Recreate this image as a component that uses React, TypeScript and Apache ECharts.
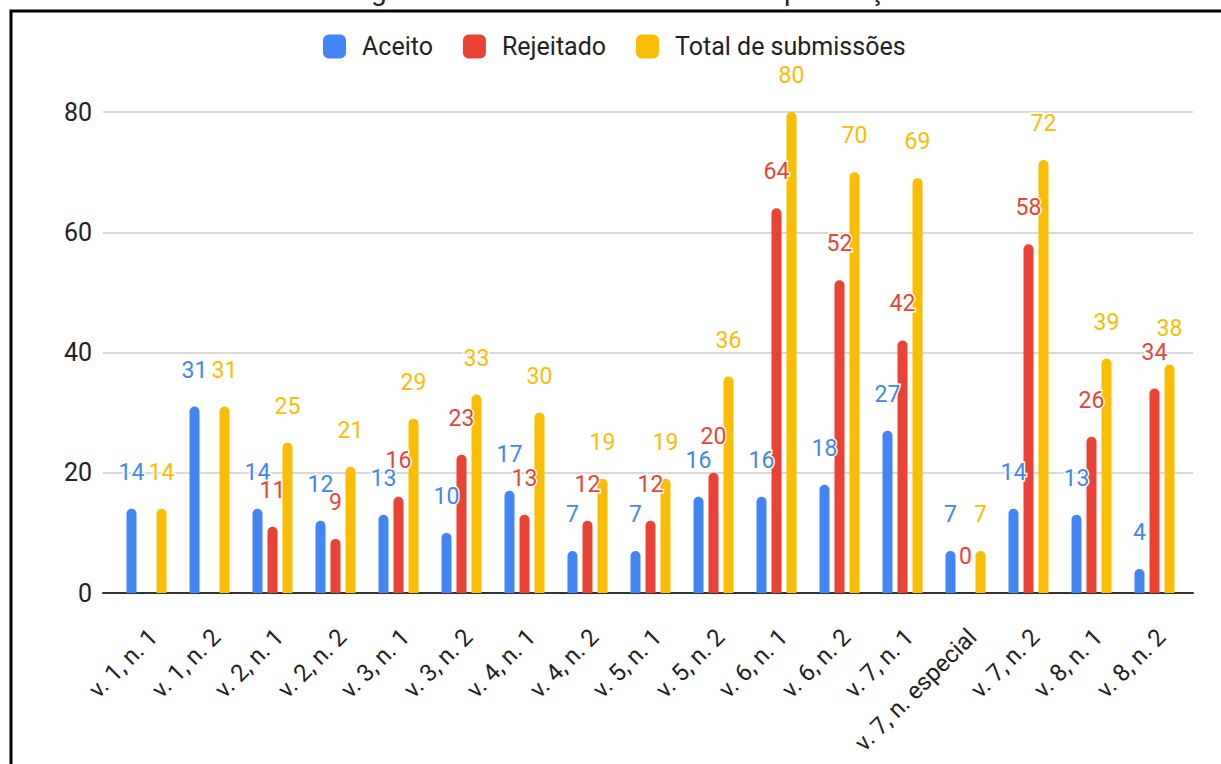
import React, { useEffect, useRef } from "react";
import * as echarts from "echarts";

const categories = [
  "v. 1, n. 1", "v. 1, n. 2", "v. 2, n. 1", "v. 2, n. 2", "v. 3, n. 1", "v. 3, n. 2",
  "v. 4, n. 1", "v. 4, n. 2", "v. 5, n. 1", "v. 5, n. 2", "v. 6, n. 1", "v. 6, n. 2",
  "v. 7, n. 1", "v. 7, n. especial", "v. 7, n. 2", "v. 8, n. 1", "v. 8, n. 2",
];
const aceito = [14, 31, 14, 12, 13, 10, 17, 7, 7, 16, 16, 18, 27, 7, 14, 13, 4];
const rejeitado = [null, null, 11, 9, 16, 23, 13, 12, 12, 20, 64, 52, 42, 0, 58, 26, 34];
const total = [14, 31, 25, 21, 29, 33, 30, 19, 19, 36, 80, 70, 69, 7, 72, 39, 38];
const seriesNames = ["Aceito", "Rejeitado", "Total de submissões"];
const seriesColors = ["#4285F4", "#EA4335", "#FBBC04"];
const yMin = 0;
const yMax = 80;
const yStep = 20;
const titleText = "Figura 1 – Número de submissões por edição";

const FONT = "Roboto, 'Noto Sans', sans-serif";

export default function App() {
  const ref = useRef<HTMLDivElement>(null);
  useEffect(() => {
    if (!ref.current) return;
    const chart = echarts.init(ref.current, null, { renderer: "svg" });
    const mkSeries = (name: string, data: (number | null)[], color: string) => ({
      name,
      type: "bar",
      xAxisIndex: 0,
      yAxisIndex: 0,
      data,
      barWidth: 10,
      barGap: "50%",
      itemStyle: { color, borderRadius: [5, 5, 0, 0] },
      label: {
        show: true,
        position: "top",
        distance: 25,
        color,
        fontSize: 23,
        fontFamily: FONT,
        textBorderColor: "#fff",
        textBorderWidth: 3,
      },
    });
    chart.setOption({
      animation: false,
      backgroundColor: "#fff",
      textStyle: { fontFamily: FONT },
      legend: {
        data: seriesNames,
        left: 318,
        top: 29,
        itemWidth: 23,
        itemHeight: 24,
        itemGap: 30,
        icon: "roundRect",
        textStyle: { fontSize: 25, color: "#222", fontFamily: FONT, padding: [0, 0, 0, 11] },
      },
      grid: [
        { left: 115, right: 35, top: 112, bottom: 171 },
        { left: 103, right: 28, top: 112, bottom: 171 },
        { left: 122, right: 28, top: 112, bottom: 171 },
      ],
      xAxis: [
        {
          type: "category",
          gridIndex: 0,
          data: categories,
          axisLine: { show: false },
          axisTick: { show: false },
          axisLabel: { show: false },
        },
        {
          type: "value",
          gridIndex: 1,
          min: 0,
          max: 1,
          axisLine: { show: true, onZero: false, lineStyle: { color: "#333", width: 2 } },
          axisTick: { show: false },
          axisLabel: { show: false },
          splitLine: { show: false },
        },
        {
          type: "category",
          gridIndex: 2,
          data: categories,
          axisLine: { show: false },
          axisTick: { show: false },
          axisLabel: {
            interval: 0,
            rotate: 45,
            fontSize: 24,
            margin: 40,
            color: "#222",
            fontFamily: FONT,
          },
        },
      ],
      yAxis: [
        { type: "value", gridIndex: 0, min: yMin, max: yMax, interval: yStep, show: false },
        {
          type: "value",
          gridIndex: 1,
          min: yMin,
          max: yMax,
          interval: yStep,
          axisLine: { show: false },
          axisTick: { show: false },
          axisLabel: { fontSize: 25, color: "#222", margin: 11, fontFamily: FONT },
          splitLine: { lineStyle: { color: "#ccc", width: 1.5 } },
        },
        { type: "value", gridIndex: 2, min: yMin, max: yMax, interval: yStep, show: false },
      ],
      series: [
        mkSeries(seriesNames[0], aceito, seriesColors[0]),
        mkSeries(seriesNames[1], rejeitado, seriesColors[1]),
        mkSeries(seriesNames[2], total, seriesColors[2]),
      ],
      graphic: [
        {
          type: "rect",
          shape: { x: 11, y: 11, width: 1300, height: 800 },
          style: { fill: "none", stroke: "#000", lineWidth: 3 },
          z: 100,
        },
        {
          type: "text",
          x: 632,
          y: -10,
          style: {
            text: titleText,
            fontSize: 28,
            fontFamily: FONT,
            fill: "#222",
            textAlign: "center",
            textVerticalAlign: "middle",
          },
        },
      ],
    });
    return () => chart.dispose();
  }, []);
  return (
    <div
      ref={ref}
      style={{ position: "absolute", left: 0, top: 0, width: 1221, height: 764 }}
    />
  );
}
